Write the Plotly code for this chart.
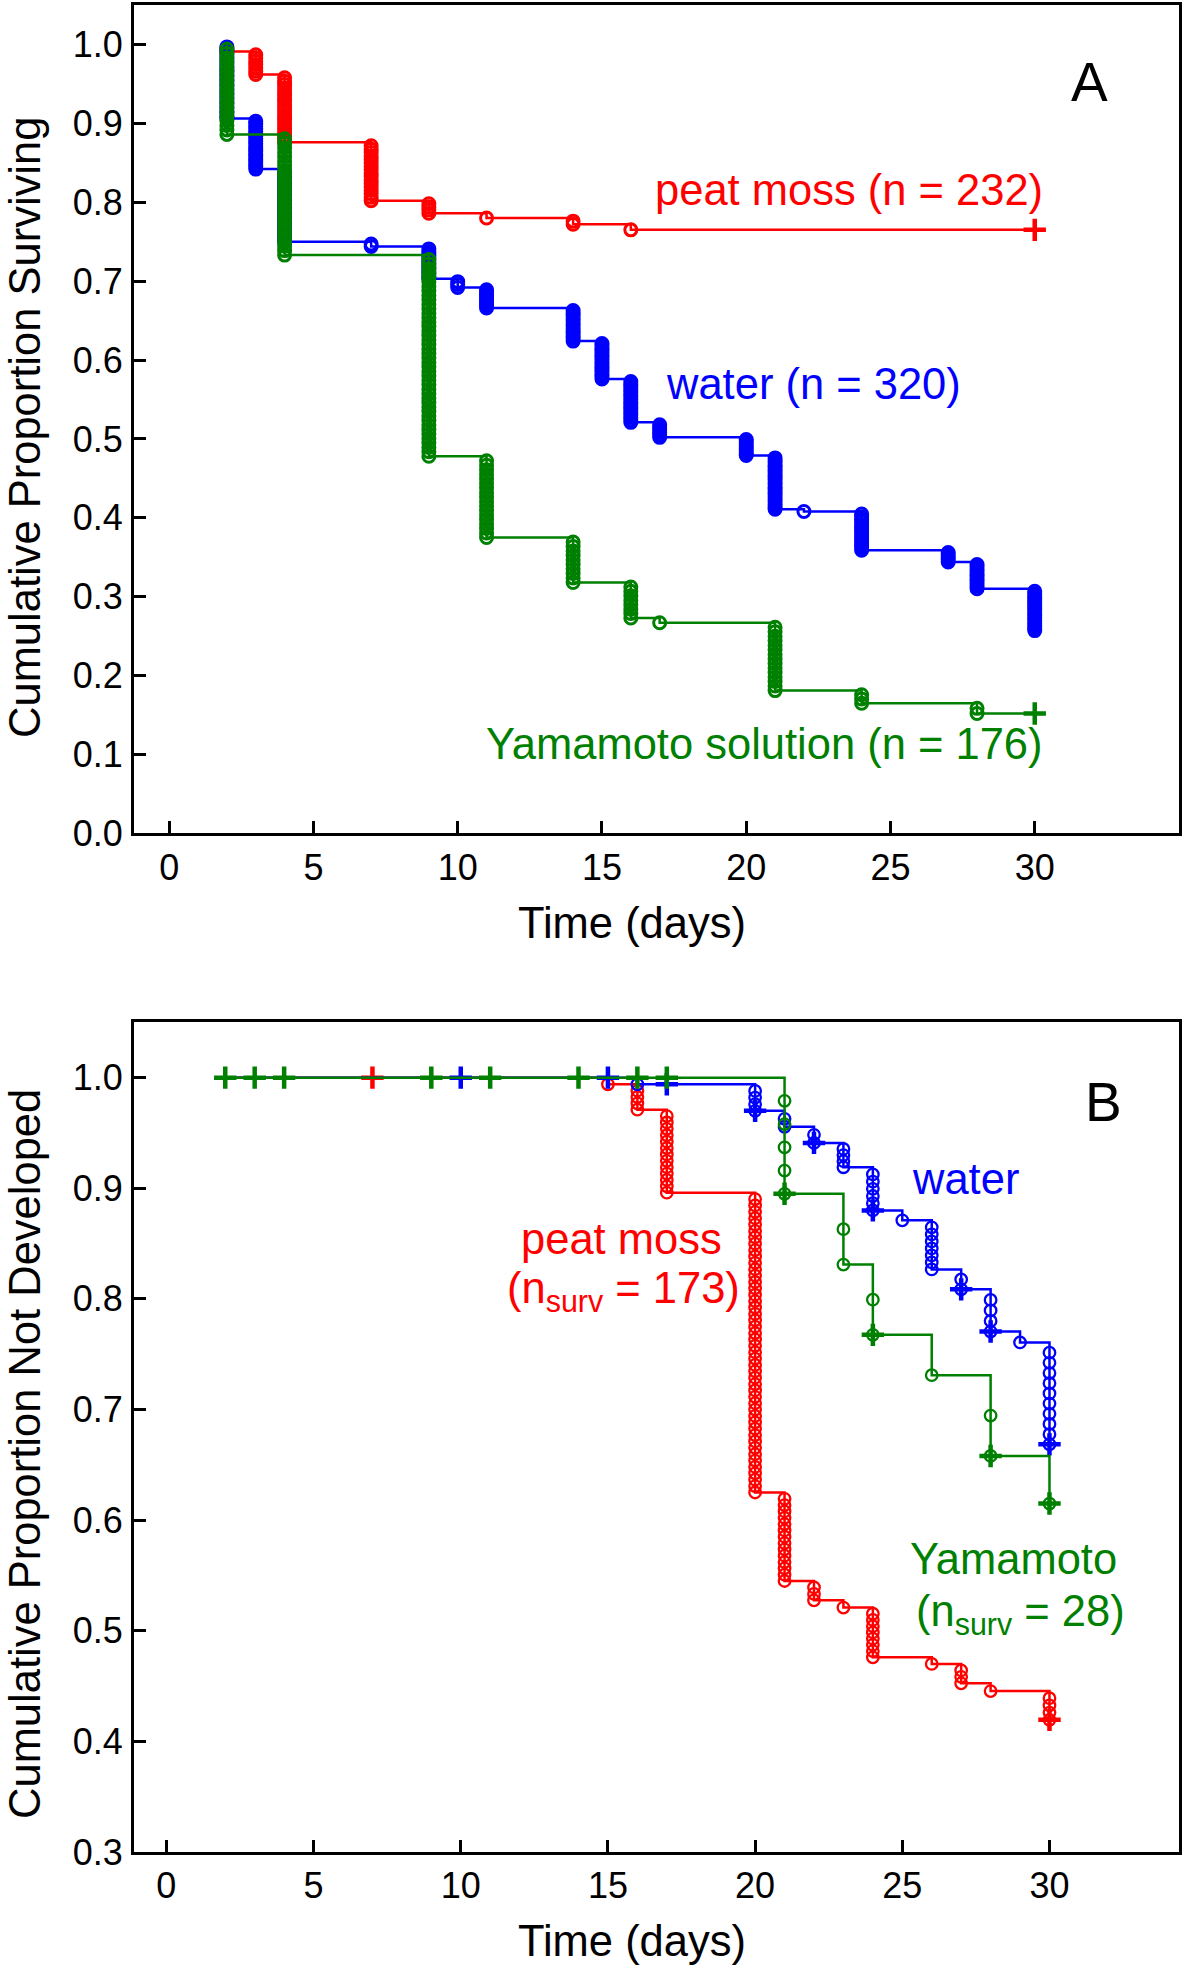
import plotly.graph_objects as go

# ---------------- Panel A data (survival) ----------------
A_start = 2
A_end = 30
peat_A_t = [2, 3, 4, 7, 9, 11, 14, 16]
peat_A_s = [0.991, 0.962, 0.876, 0.802, 0.786, 0.780, 0.772, 0.765]
peat_A_d = [2, 7, 20, 17, 4, 1, 2, 1]
peat_A_cens_t = [30]
peat_A_cens_s = [0.765]

water_A_t = [2, 3, 4, 7, 9, 10, 11, 14, 15, 16, 17, 20, 21, 22, 24, 27, 28, 30]
water_A_s = [0.906, 0.842, 0.750, 0.744, 0.703, 0.692, 0.666, 0.624, 0.576,
             0.521, 0.502, 0.479, 0.411, 0.408, 0.359, 0.344, 0.310, 0.257]
water_A_d = [30, 20, 30, 2, 13, 3, 9, 13, 16, 17, 6, 8, 22, 1, 15, 5, 11, 17]
water_A_cens_t = []
water_A_cens_s = []

yama_A_t = [2, 4, 9, 11, 14, 16, 17, 21, 24, 28]
yama_A_s = [0.886, 0.733, 0.478, 0.375, 0.318, 0.273, 0.267, 0.181, 0.165, 0.152]
yama_A_d = [20, 27, 45, 18, 10, 8, 1, 15, 3, 2]
yama_A_cens_t = [30]
yama_A_cens_s = [0.152]

# ---------------- Panel B data (not developed) ----------------
B_start = 2
B_end = 30
peat_B_t = [15, 16, 17, 20, 21, 22, 23, 24, 26, 27, 28, 30]
peat_B_s = [0.994, 0.971, 0.896, 0.625, 0.545, 0.5275, 0.521, 0.476, 0.470, 0.4525, 0.4455, 0.4195]
peat_B_d = [1, 4, 13, 47, 14, 3, 1, 8, 1, 3, 1, 4]
peat_B_cens_t = [7, 30]
peat_B_cens_s = [1.0, 0.4195]

water_B_t = [16, 20, 21, 22, 23, 24, 25, 26, 27, 28, 29, 30]
water_B_s = [0.994, 0.970, 0.9556, 0.941, 0.919, 0.880, 0.871, 0.8266, 0.8086, 0.7705, 0.7606, 0.6685]
water_B_d = [1, 4, 2, 2, 4, 6, 1, 7, 2, 4, 1, 10]
water_B_cens_t = [10, 15, 17, 20, 22, 24, 27, 28, 30]
water_B_cens_s = [1.0, 1.0, 0.994, 0.970, 0.941, 0.880, 0.8086, 0.7705, 0.6685]

yama_B_t = [21, 23, 24, 26, 28, 30]
yama_B_s = [0.895, 0.831, 0.7675, 0.731, 0.658, 0.615]
yama_B_d = [5, 2, 2, 1, 2, 1]
yama_B_cens_t = [2, 3, 4, 9, 11, 14, 16, 17, 21, 24, 28, 30]
yama_B_cens_s = [1.0, 1.0, 1.0, 1.0, 1.0, 1.0, 1.0, 1.0, 0.895, 0.7675, 0.658, 0.615]

x_ticks = [0, 5, 10, 15, 20, 25, 30]
yA_ticks = [0.0, 0.1, 0.2, 0.3, 0.4, 0.5, 0.6, 0.7, 0.8, 0.9, 1.0]
yB_ticks = [0.3, 0.4, 0.5, 0.6, 0.7, 0.8, 0.9, 1.0]

RED, BLUE, GREEN = "#FF0000", "#0000FF", "#008000"
FONT = "Liberation Sans, Arial, Helvetica, sans-serif"

fig = go.Figure()


def add_curve(t, s, d, ct, cs, start, end, color, xa, ya, msize, mlw):
    # step line
    xs = [start] + list(t)
    ys = [1.0] + list(s)
    if xs[-1] < end:
        xs.append(end)
        ys.append(ys[-1])
    fig.add_trace(go.Scatter(x=xs, y=ys, mode="lines", line=dict(color=color, width=2.5, shape="hv"),
                             xaxis=xa, yaxis=ya, showlegend=False, hoverinfo="skip"))
    # event circles (one per event, KM value after each event)
    mx, my = [], []
    prev = 1.0
    for ti, si, di in zip(t, s, d):
        for k in range(1, di + 1):
            mx.append(ti)
            my.append(prev - k * (prev - si) / di)
        prev = si
    fig.add_trace(go.Scatter(x=mx, y=my, mode="markers",
                             marker=dict(symbol="circle-open", size=msize, color=color,
                                         line=dict(color=color, width=mlw)),
                             xaxis=xa, yaxis=ya, showlegend=False))
    if ct:
        fig.add_trace(go.Scatter(x=ct, y=cs, mode="markers",
                                 marker=dict(symbol="cross-thin", size=16, color=color,
                                             line=dict(color=color, width=4.5)),
                                 xaxis=xa, yaxis=ya, showlegend=False))


add_curve(peat_A_t, peat_A_s, peat_A_d, peat_A_cens_t, peat_A_cens_s, A_start, A_end, RED, "x", "y", 12, 3)
add_curve(water_A_t, water_A_s, water_A_d, water_A_cens_t, water_A_cens_s, A_start, A_end, BLUE, "x", "y", 12, 3)
add_curve(yama_A_t, yama_A_s, yama_A_d, yama_A_cens_t, yama_A_cens_s, A_start, A_end, GREEN, "x", "y", 12, 3)

add_curve(peat_B_t, peat_B_s, peat_B_d, peat_B_cens_t, peat_B_cens_s, B_start, B_end, RED, "x2", "y2", 11.5, 2.3)
add_curve(water_B_t, water_B_s, water_B_d, water_B_cens_t, water_B_cens_s, B_start, B_end, BLUE, "x2", "y2", 11.5, 2.3)
add_curve(yama_B_t, yama_B_s, yama_B_d, yama_B_cens_t, yama_B_cens_s, B_start, B_end, GREEN, "x2", "y2", 11.5, 2.3)

axis_common = dict(showline=True, mirror=True, linecolor="black", linewidth=3,
                   ticks="inside", ticklen=12, tickwidth=2.5, tickcolor="black",
                   showgrid=False, zeroline=False,
                   tickfont=dict(family=FONT, size=36, color="black"))

fig.update_layout(
    width=1200, height=1967,
    margin=dict(l=134, r=21, t=2, b=115),
    paper_bgcolor="white", plot_bgcolor="white",
    font=dict(family=FONT, color="black"),
    xaxis=dict(domain=[0, 1], anchor="y", range=[-1.22, 35.0], tickvals=x_ticks, **axis_common),
    yaxis=dict(domain=[0.5515, 1.0], anchor="x", range=[0.0, 1.05], tickvals=yA_ticks,
               tickformat=".1f", ticklabelstandoff=1, **axis_common),
    xaxis2=dict(domain=[0, 1], anchor="y2", range=[-1.1, 34.4], tickvals=x_ticks, **axis_common),
    yaxis2=dict(domain=[0.0, 0.4492], anchor="x2", range=[0.3, 1.05], tickvals=yB_ticks,
                tickformat=".1f", ticklabelstandoff=1, **axis_common),
)

TS = 43.5
ann = []
# axis titles
ann.append(dict(text="Time (days)", xref="paper", yref="paper", x=0.4766, y=0.5029,
                showarrow=False, xanchor="center", yanchor="middle", font=dict(size=TS)))
ann.append(dict(text="Time (days)", xref="paper", yref="paper", x=0.4766, y=-0.0481,
                showarrow=False, xanchor="center", yanchor="middle", font=dict(size=TS)))
ann.append(dict(text="Cumulative Proportion Surviving", xref="paper", yref="paper", x=-0.1043, y=0.771,
                textangle=-90, showarrow=False, xanchor="center", yanchor="middle", font=dict(size=TS)))
ann.append(dict(text="Cumulative Proportion Not Developed", xref="paper", yref="paper", x=-0.1043, y=0.2155,
                textangle=-90, showarrow=False, xanchor="center", yanchor="middle", font=dict(size=TS)))
# panel A labels
ann.append(dict(text="peat moss (n = 232)", xref="x", yref="y", x=30.35, y=0.815, xanchor="right",
                yanchor="middle", showarrow=False, font=dict(size=TS, color=RED)))
ann.append(dict(text="water (n = 320)", xref="x", yref="y", x=17.15, y=0.569, xanchor="left",
                yanchor="middle", showarrow=False, font=dict(size=TS, color=BLUE)))
ann.append(dict(text="Yamamoto solution (n = 176)", xref="x", yref="y", x=30.35, y=0.1135, xanchor="right",
                yanchor="middle", showarrow=False, font=dict(size=TS, color=GREEN)))
ann.append(dict(text="A", xref="x", yref="y", x=31.9, y=0.952, xanchor="center",
                yanchor="middle", showarrow=False, font=dict(size=55, color="black")))
# panel B labels
ann.append(dict(text="water", xref="x2", yref="y2", x=27.15, y=0.908, xanchor="center",
                yanchor="middle", showarrow=False, font=dict(size=TS, color=BLUE)))
ann.append(dict(text="(n<sub>surv</sub> = 84)", xref="x2", yref="y2", x=34.5, y=0.86, xanchor="right",
                yanchor="middle", showarrow=False, font=dict(size=TS, color=BLUE)))
ann.append(dict(text="peat moss", xref="x2", yref="y2", x=15.45, y=0.854, xanchor="center",
                yanchor="middle", showarrow=False, font=dict(size=TS, color=RED)))
ann.append(dict(text="(n<sub>surv</sub> = 173)", xref="x2", yref="y2", x=15.54, y=0.8067, xanchor="center",
                yanchor="middle", showarrow=False, font=dict(size=TS, color=RED)))
ann.append(dict(text="Yamamoto", xref="x2", yref="y2", x=28.77, y=0.565, xanchor="center",
                yanchor="middle", showarrow=False, font=dict(size=TS, color=GREEN)))
ann.append(dict(text="(n<sub>surv</sub> = 28)", xref="x2", yref="y2", x=29.03, y=0.5155, xanchor="center",
                yanchor="middle", showarrow=False, font=dict(size=TS, color=GREEN)))
ann.append(dict(text="B", xref="x2", yref="y2", x=31.84, y=0.978, xanchor="center",
                yanchor="middle", showarrow=False, font=dict(size=55, color="black")))
fig.update_layout(annotations=ann)

fig.write_html("out.html", config={"displayModeBar": False},
               post_script="document.body.style.margin='0px';")
